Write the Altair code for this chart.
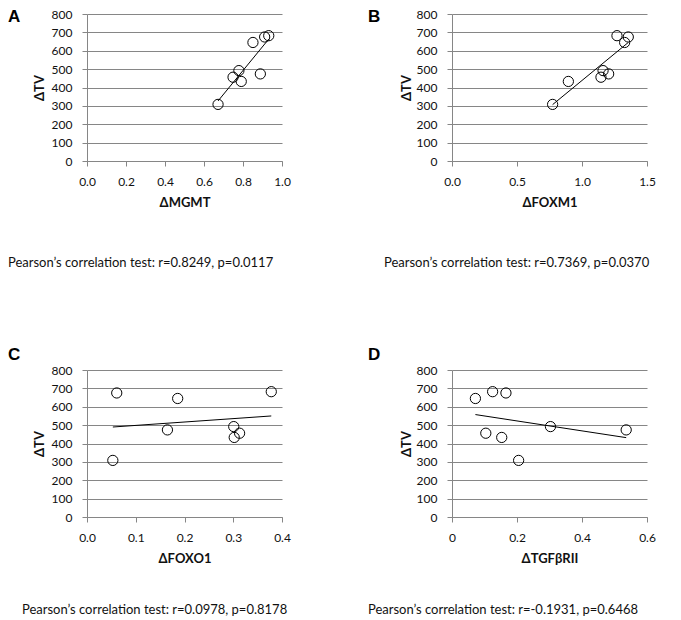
import altair as alt
import pandas as pd

# ---- data ----
mgmt = [0.672, 0.749, 0.779, 0.791, 0.851, 0.889, 0.911, 0.932]
tv_a = [308, 456, 492, 433, 645, 474, 675, 682]

foxm1 = [0.774, 0.895, 1.146, 1.162, 1.205, 1.269, 1.328, 1.356]
tv_b = [308, 433, 456, 492, 474, 682, 645, 675]

foxo1 = [0.053, 0.061, 0.165, 0.186, 0.301, 0.302, 0.313, 0.378]
tv_c = [308, 675, 474, 645, 492, 433, 456, 682]

tgfb = [0.072, 0.104, 0.125, 0.153, 0.166, 0.205, 0.303, 0.536]
tv_d = [645, 456, 682, 433, 675, 308, 492, 474]

y_ticks = [0, 100, 200, 300, 400, 500, 600, 700, 800]
x_ticks_a = [0.0, 0.2, 0.4, 0.6, 0.8, 1.0]
x_ticks_b = [0.0, 0.5, 1.0, 1.5]
x_ticks_c = [0.0, 0.1, 0.2, 0.3, 0.4]
x_ticks_d = [0.0, 0.2, 0.4, 0.6]

captions = [
    "Pearson\u2019s correlation test: r=0.8249, p=0.0117",
    "Pearson\u2019s correlation test: r=0.7369, p=0.0370",
    "Pearson\u2019s correlation test: r=0.0978, p=0.8178",
    "Pearson\u2019s correlation test: r=-0.1931, p=0.6468",
]
letters = ["A", "B", "C", "D"]
x_titles = ["\u0394MGMT", "\u0394FOXM1", "\u0394FOXO1", "\u0394TGF\u03b2RII"]

W, H = 195, 147
GRID = "#868686"
FONT = "Lato"


def panel(xs, ys, xticks, fmt, xtitle, letter, lx, ly, caption, cx, cy, ytx):
    df = pd.DataFrame({"x": xs, "y": ys})
    base = alt.Chart(df)
    xenc = alt.X(
        "x:Q",
        scale=alt.Scale(domain=[xticks[0], xticks[-1]], nice=False, zero=False),
        axis=alt.Axis(
            values=xticks, tickCount=len(xticks), format=fmt, title=xtitle, grid=False,
            tickSize=5, labelPadding=15, labelBaseline="middle",
            labelOverlap=False, labelFlush=False,
            titleX=W / 2, titleY=41, titleBaseline="middle",
        ),
    )
    yenc = alt.Y(
        "y:Q",
        scale=alt.Scale(domain=[0, 800], nice=False),
        axis=alt.Axis(
            values=y_ticks, tickCount=len(y_ticks), title="\u0394TV", grid=True,
            tickSize=5, labelPadding=10, labelOverlap=False, labelFlush=False,
            titleX=ytx, titleY=H / 2, titleBaseline="middle", titleAlign="center",
        ),
    )
    pts = base.mark_point(
        shape="circle", filled=False, color="black", size=105, strokeWidth=1, opacity=1
    ).encode(x=xenc, y=yenc)
    line = base.transform_regression("x", "y").mark_line(
        color="black", strokeWidth=1
    ).encode(x="x:Q", y="y:Q")
    let = alt.Chart(pd.DataFrame({"t": [letter]})).mark_text(
        align="left", baseline="alphabetic", font="Liberation Sans",
        fontWeight="bold", fontSize=17, color="black",
    ).encode(text="t:N", x=alt.value(lx), y=alt.value(ly))
    cap = alt.Chart(pd.DataFrame({"t": [caption]})).mark_text(
        align="left", baseline="alphabetic", font=FONT,
        fontSize=13, color="#111111",
    ).encode(text="t:N", x=alt.value(cx), y=alt.value(cy))
    return alt.layer(pts, line, let, cap).properties(width=W, height=H)


pa = panel(mgmt, tv_a, x_ticks_a, ".1f", x_titles[0], letters[0], -79, 8, captions[0], -79, 253, -48)
pb = panel(foxm1, tv_b, x_ticks_b, ".1f", x_titles[1], letters[1], -84, 8, captions[1], -68, 253, -46)
pc = panel(foxo1, tv_c, x_ticks_c, ".1f", x_titles[2], letters[2], -79, -10, captions[2], -65, 244, -48)
pd_ = panel(tgfb, tv_d, x_ticks_d, "~g", x_titles[3], letters[3], -84, -10, captions[3], -84, 244, -46)

chart = alt.concat(pa, pb, pc, pd_, columns=2, spacing={"row": 76, "column": 77}).properties(
    padding=0
).configure_view(stroke=None).configure_axis(
    domainColor=GRID, tickColor=GRID, gridColor=GRID, gridWidth=1,
    domainWidth=1, tickWidth=1,
    labelFont=FONT, labelFontSize=12, labelColor="#111111",
    titleFont=FONT, titleFontSize=13, titleFontWeight="bold", titleColor="#111111",
)

chart.save("out.html", embed_options={"renderer": "svg", "actions": False})
